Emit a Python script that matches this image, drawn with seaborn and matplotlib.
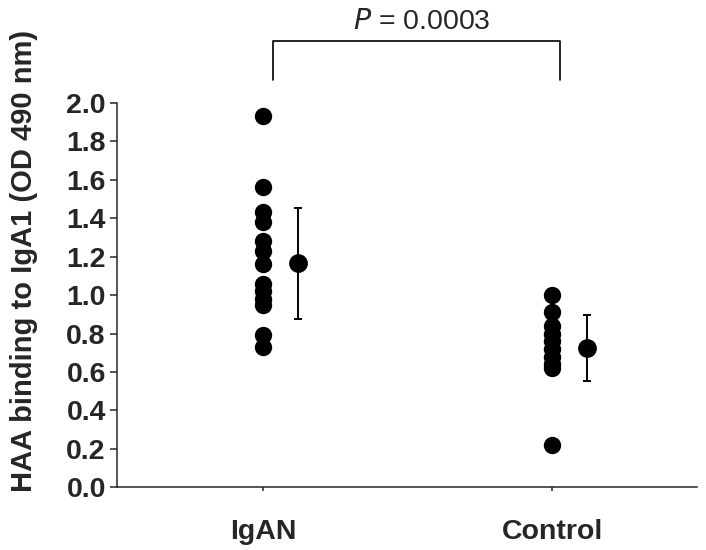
import numpy as np
import pandas as pd
import matplotlib
matplotlib.use("Agg")
import matplotlib.pyplot as plt
import seaborn as sns

# --- data ---
groups = ["IgAN", "Control"]
igan_values = [1.93, 1.56, 1.43, 1.38, 1.28, 1.23, 1.16, 1.06, 1.02, 0.98, 0.95, 0.79, 0.73]
control_values = [1.00, 0.91, 0.84, 0.80, 0.76, 0.72, 0.68, 0.64, 0.62, 0.22]
group_means = [1.165, 0.725]
group_sds = [0.29, 0.17]
p_text = "0.0003"

sns.set_style("ticks")
plt.rcParams["font.family"] = ["Liberation Sans", "DejaVu Sans"]

plot_data = pd.DataFrame({
    "Group": ["IgAN"] * len(igan_values) + ["Control"] * len(control_values),
    "Value": igan_values + control_values,
})

fig = plt.figure(figsize=(7.06, 5.5), dpi=100)
ax = fig.add_axes([0.1657, 0.114, 0.821, 0.699])

sns.stripplot(
    data=plot_data, x="Group", y="Value", order=groups,
    jitter=False, color="black", size=12.5, linewidth=0, ax=ax,
)

# --- mean +/- SD beside each group ---
offset = 0.12
for i, (m, sd) in enumerate(zip(group_means, group_sds)):
    ax.errorbar(i + offset, m, yerr=sd, fmt="o", color="black",
                markersize=12.5, elinewidth=1.4, capsize=3.2, capthick=1.4)

ax.set_xlim(-0.505, 1.5)
ax.set_ylim(0, 2.0)
ax.set_yticks(np.arange(0, 2.01, 0.2))
ax.set_yticklabels([f"{v:.1f}" for v in np.arange(0, 2.01, 0.2)],
                   fontsize=20.5, fontweight="bold")
ax.set_xticks([0, 1])
ax.set_xticklabels(groups, fontsize=20.5, fontweight="bold")
ax.set_xlabel("")
ax.set_ylabel("HAA binding to IgA1 (OD 490 nm)", fontsize=21,
              fontweight="bold")
ax.yaxis.set_label_coords(-0.136, 0.59)
ax.tick_params(axis="y", length=5, width=1.1, pad=3)
ax.tick_params(axis="x", length=3, width=1.1, pad=20)
for s in ["left", "bottom"]:
    ax.spines[s].set_linewidth(1.1)
sns.despine(ax=ax)

# --- significance bracket ---
x1, x2 = 0.034, 1.028
y_low, y_top = 2.12, 2.32
ax.plot([x1, x1, x2, x2], [y_low, y_top, y_top, y_low], color="black",
        lw=1.2, clip_on=False)
ax.text((x1 + x2) / 2 + 0.02, 2.42, f"$\\mathit{{P}}$ = {p_text}",
        ha="center", va="center", fontsize=20.5)

fig.savefig("out.png", dpi=100)
